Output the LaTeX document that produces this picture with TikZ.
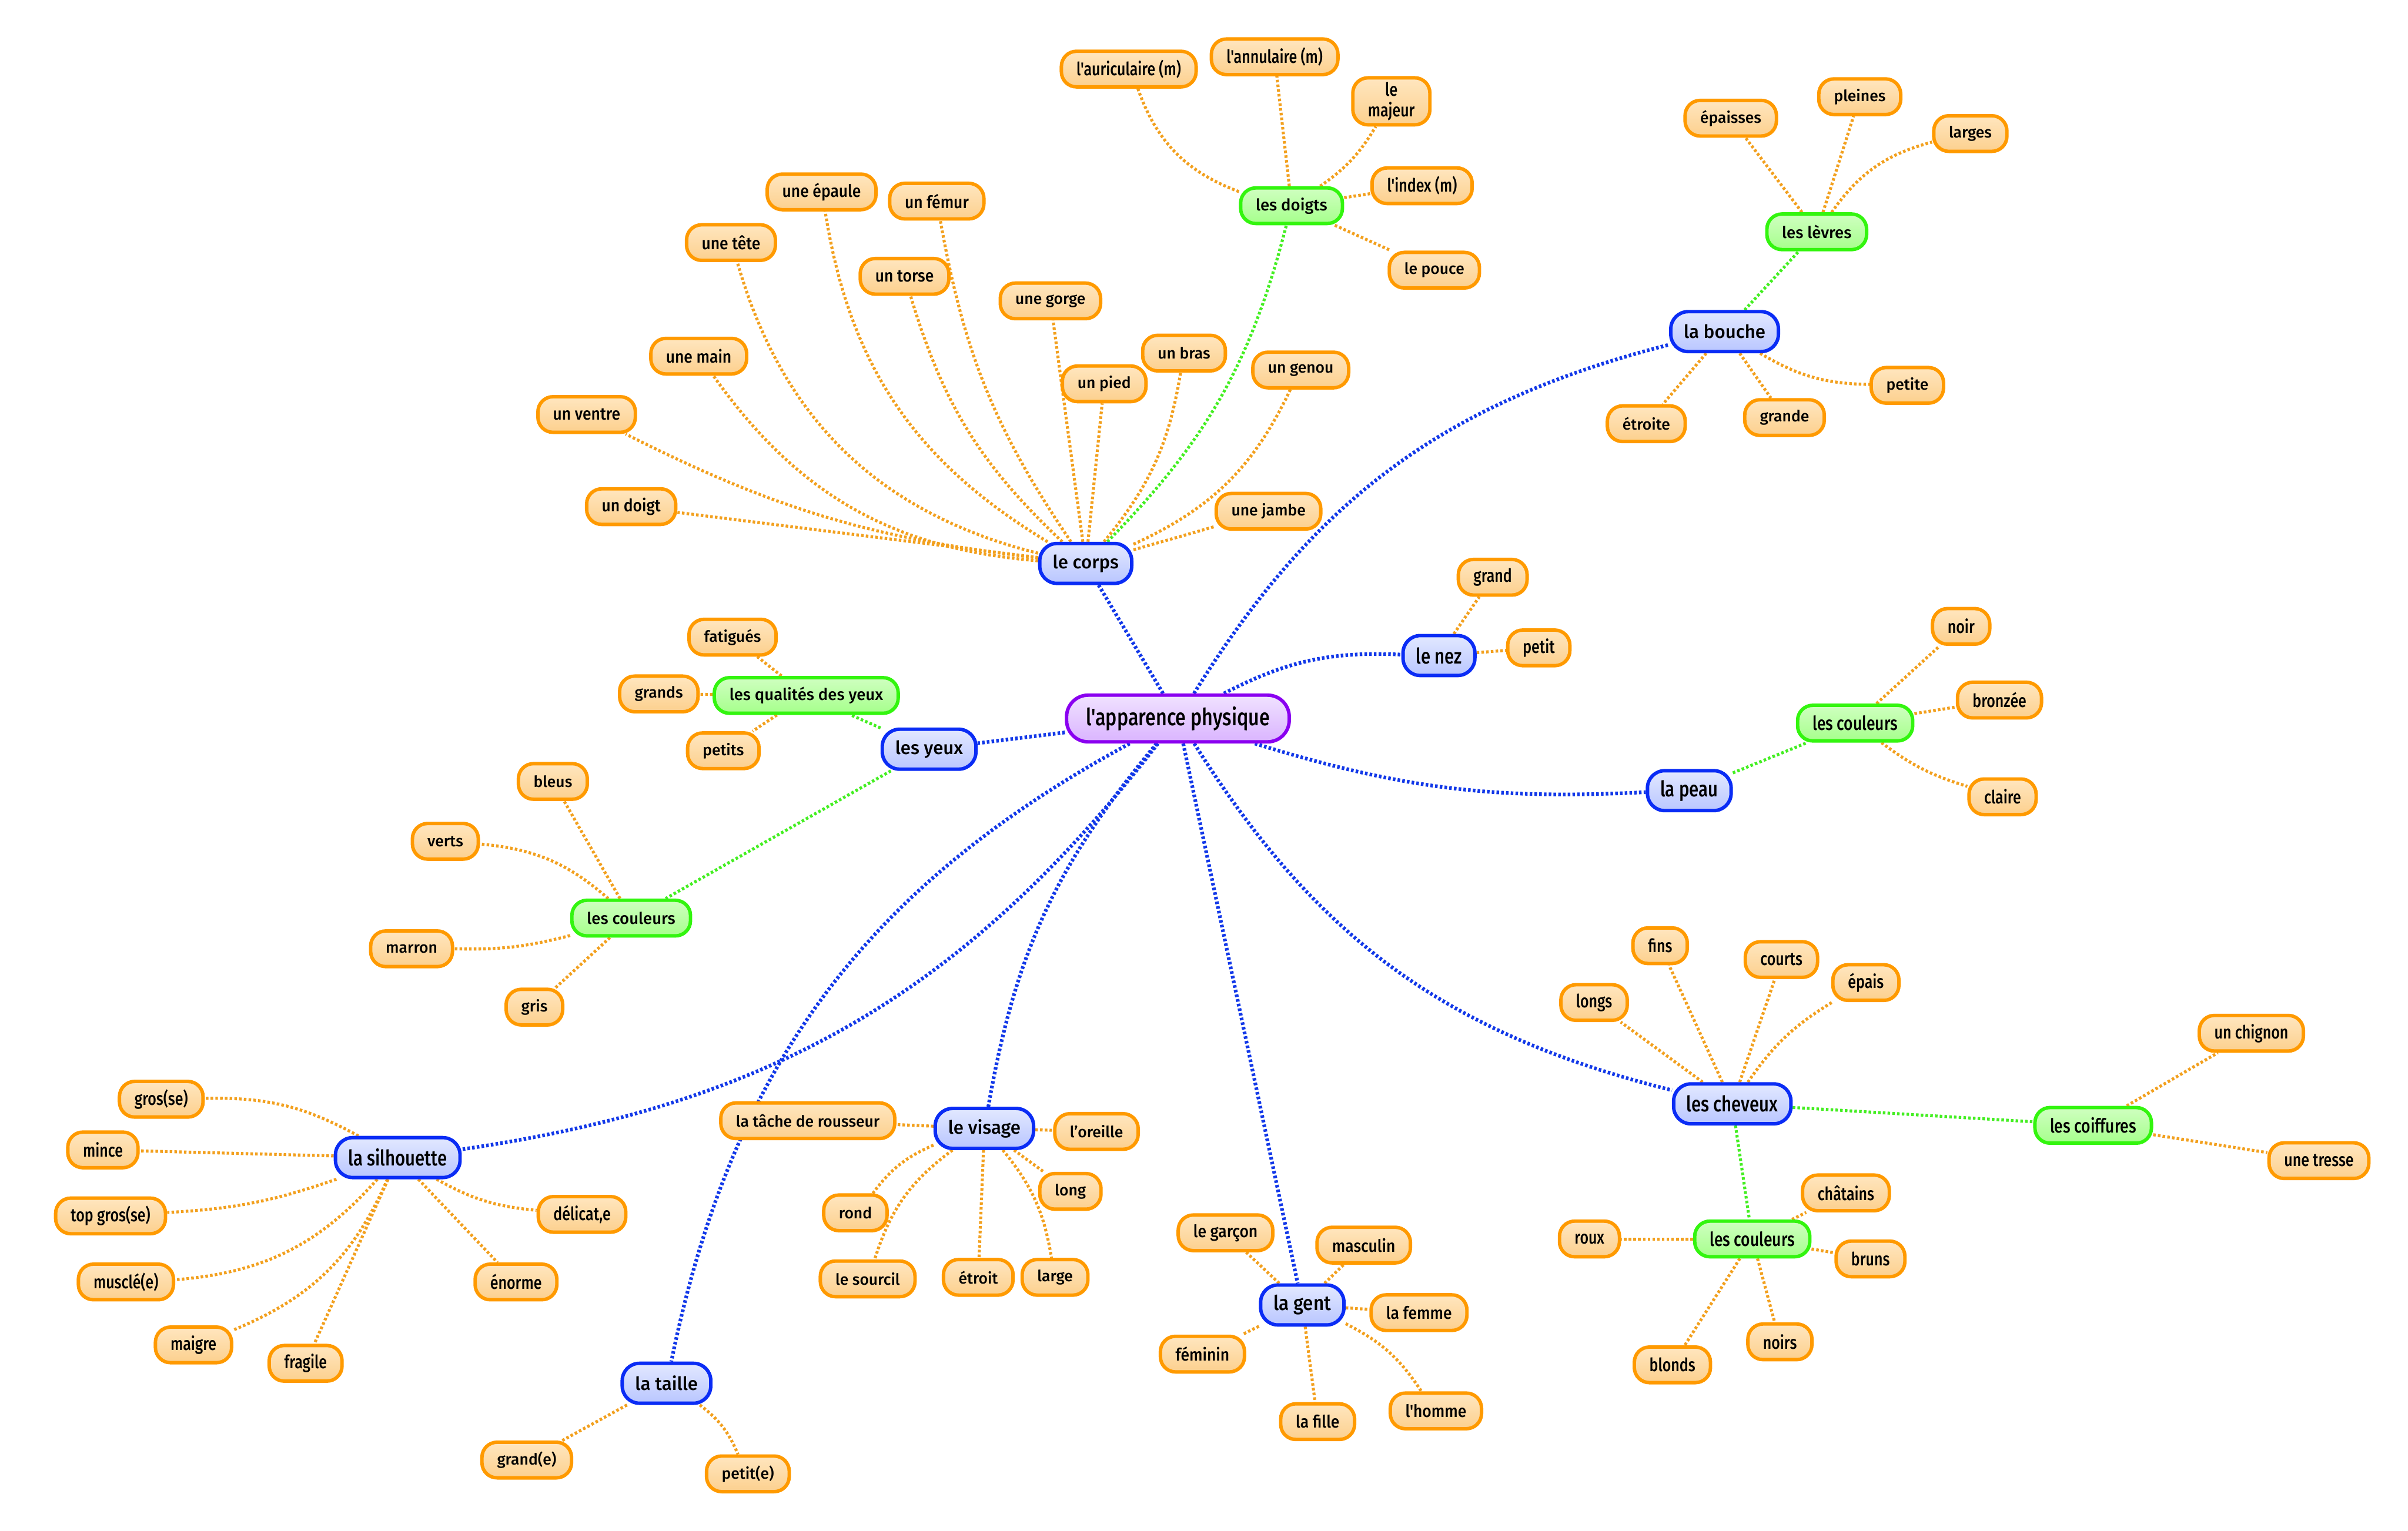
\documentclass[tikz,border=0pt]{standalone}
\usepackage{fontspec}
\setmainfont{Fira Sans}[UprightFont=* Medium]
\newfontfamily\narrowfont{Fira Sans}[UprightFont=* Medium,FakeStretch=0.8]
\newfontfamily\midfont{Fira Sans}[UprightFont=* Medium,FakeStretch=0.9]
\usepackage{tikz}
\usetikzlibrary{backgrounds}
\definecolor{Orange}{HTML}{FF9A00}
\definecolor{OrangeTop}{HTML}{FFE6BF}
\definecolor{OrangeBot}{HTML}{FCD08E}
\definecolor{OrangeLine}{HTML}{F2A01E}
\definecolor{Blue}{HTML}{0A2CF5}
\definecolor{BlueTop}{HTML}{E2E8FF}
\definecolor{BlueBot}{HTML}{B9C6FF}
\definecolor{BlueLine}{HTML}{1238E8}
\definecolor{Green}{HTML}{33F50F}
\definecolor{GreenTop}{HTML}{CFFFC0}
\definecolor{GreenBot}{HTML}{A6FF8C}
\definecolor{GreenLine}{HTML}{44EE22}
\definecolor{Purple}{HTML}{8A00F0}
\definecolor{PurpleTop}{HTML}{F0E2FF}
\definecolor{PurpleBot}{HTML}{DAB4FF}
\tikzset{pill/.style={rounded corners=7pt,line width=1.6pt,align=center,inner xsep=7pt,inner ysep=2pt,minimum height=0.58cm},leaf/.style={pill,draw=Orange,top color=OrangeTop,bottom color=OrangeBot,font=\fontsize{7.2}{8.4}\selectfont},leafn/.style={leaf,font=\narrowfont\fontsize{8.5}{9.5}\selectfont},leafm/.style={leaf,font=\midfont\fontsize{8}{9}\selectfont},sub/.style={pill,draw=Green,top color=GreenTop,bottom color=GreenBot,font=\fontsize{7.5}{9}\selectfont},subn/.style={sub,font=\narrowfont\fontsize{9}{10}\selectfont},main/.style={pill,rounded corners=8pt,minimum height=0.65cm,inner xsep=6pt,draw=Blue,top color=BlueTop,bottom color=BlueBot,font=\fontsize{8.5}{10}\selectfont},mainn/.style={main,font=\narrowfont\fontsize{10}{12}\selectfont},mainm/.style={main,font=\midfont\fontsize{9.5}{11}\selectfont},root/.style={pill,rounded corners=10pt,minimum height=0.76cm,inner xsep=9pt,draw=Purple,top color=PurpleTop,bottom color=PurpleBot,font=\narrowfont\fontsize{11}{13}\selectfont},bline/.style={draw=BlueLine,line width=1.7pt,dash pattern=on 1.2pt off 1pt},gline/.style={draw=GreenLine,line width=1.4pt,dash pattern=on 1.2pt off 1pt},oline/.style={draw=OrangeLine,line width=1.4pt,dash pattern=on 1.2pt off 1pt}}
\begin{document}
\begin{tikzpicture}[x=0.025cm,y=0.025cm]
        \useasboundingbox (0,0) rectangle (1568,-997);
        \node[root] (root) at (767,-468) {l'apparence physique};
        \node[main] (corps) at (707,-367) {le corps};
        \node[main] (yeux) at (605,-488) {les yeux};
        \node[mainn] (nez) at (937,-427) {le nez};
        \node[main] (bouche) at (1123,-216) {la bouche};
        \node[mainn] (peau) at (1100,-515) {la peau};
        \node[mainn] (cheveux) at (1128,-719) {les cheveux};
        \node[mainm] (gent) at (848,-850) {la gent};
        \node[main] (visage) at (641,-735) {le visage};
        \node[main] (taille) at (434,-901) {la taille};
        \node[mainn] (silhouette) at (259,-754) {la silhouette};
        \node[sub] (doigts) at (841,-134) {les doigts};
        \node[sub] (levres) at (1183,-151) {les lèvres};
        \node[sub] (qualites) at (525,-453) {les qualités des yeux};
        \node[sub] (couleursY) at (411,-598) {les couleurs};
        \node[subn] (couleursP) at (1208,-471) {les couleurs};
        \node[subn] (coiffures) at (1363,-733) {les coiffures};
        \node[subn] (couleursC) at (1141,-807) {les couleurs};
        \node[leafm] (undoigt) at (411,-330) {un doigt};
        \node[leafm] (ventre) at (382,-270) {un ventre};
        \node[leafm] (main) at (455,-232) {une main};
        \node[leafm] (tete) at (476,-158) {une tête};
        \node[leafm] (epaule) at (535,-125) {une épaule};
        \node[leafm] (torse) at (589,-180) {un torse};
        \node[leafm] (femur) at (610,-131) {un fémur};
        \node[leaf] (gorge) at (684,-196) {une gorge};
        \node[leaf] (pied) at (719,-250) {un pied};
        \node[leaf] (bras) at (771,-230) {un bras};
        \node[leaf] (genou) at (847,-241) {un genou};
        \node[leaf] (jambe) at (826,-333) {une jambe};
        \node[leafn] (auriculaire) at (735,-45) {l'auriculaire (m)};
        \node[leafn] (annulaire) at (830,-37) {l'annulaire (m)};
        \node[leafn] (majeur) at (906,-66) {le\\majeur};
        \node[leafn] (index) at (926,-121) {l'index (m)};
        \node[leaf] (pouce) at (934,-176) {le pouce};
        \node[leaf] (epaisses) at (1127,-77) {épaisses};
        \node[leaf] (pleines) at (1211,-63) {pleines};
        \node[leaf] (larges) at (1283,-87) {larges};
        \node[leaf] (etroite) at (1072,-276) {étroite};
        \node[leaf] (grande) at (1162,-272) {grande};
        \node[leaf] (petite) at (1242,-251) {petite};
        \node[leafn] (nezgrand) at (972,-376) {grand};
        \node[leafn] (nezpetit) at (1002,-422) {petit};
        \node[leafn] (noir) at (1277,-408) {noir};
        \node[leafn] (bronzee) at (1302,-456) {bronzée};
        \node[leafn] (claire) at (1304,-519) {claire};
        \node[leaf] (fatigues) at (477,-415) {fatigués};
        \node[leaf] (grands) at (429,-452) {grands};
        \node[leaf] (petits) at (471,-489) {petits};
        \node[leaf] (bleus) at (360,-509) {bleus};
        \node[leaf] (verts) at (290,-548) {verts};
        \node[leaf] (marron) at (268,-618) {marron};
        \node[leaf] (gris) at (348,-656) {gris};
        \node[leafn] (gros) at (105,-716) {gros(se)};
        \node[leafn] (mince) at (67,-749) {mince};
        \node[leafn] (topgros) at (72,-792) {top gros(se)};
        \node[leafn] (muscle) at (82,-835) {musclé(e)};
        \node[leafn] (maigre) at (126,-876) {maigre};
        \node[leafn] (fragile) at (199,-888) {fragile};
        \node[leafn] (enorme) at (336,-835) {énorme};
        \node[leafn] (delicat) at (379,-791) {délicat,e};
        \node[leaf] (tgrand) at (343,-951) {grand(e)};
        \node[leaf] (tpetit) at (487,-960) {petit(e)};
        \node[leaf] (tache) at (526,-730) {la tâche de rousseur};
        \node[leaf] (oreille) at (714,-737) {l'oreille};
        \node[leaf] (long) at (697,-776) {long};
        \node[leaf] (rond) at (557,-790) {rond};
        \node[leaf] (sourcil) at (565,-833) {le sourcil};
        \node[leaf] (etroit) at (637,-832) {étroit};
        \node[leaf] (large) at (687,-832) {large};
        \node[leafm] (garcon) at (798,-803) {le garçon};
        \node[leafm] (masculin) at (888,-811) {masculin};
        \node[leafm] (femme) at (924,-855) {la femme};
        \node[leafm] (feminin) at (783,-882) {féminin};
        \node[leafm] (fille) at (858,-926) {la fille};
        \node[leafm] (homme) at (935,-919) {l'homme};
        \node[leafn] (longs) at (1038,-653) {longs};
        \node[leafn] (fins) at (1081,-616) {fins};
        \node[leafn] (courts) at (1160,-625) {courts};
        \node[leafn] (epais) at (1215,-640) {épais};
        \node[leafn] (chignon) at (1466,-673) {un chignon};
        \node[leafn] (tresse) at (1510,-756) {une tresse};
        \node[leafn] (roux) at (1035,-807) {roux};
        \node[leafn] (chatains) at (1202,-777) {châtains};
        \node[leafn] (bruns) at (1218,-820) {bruns};
        \node[leafn] (noirs) at (1159,-874) {noirs};
        \node[leafn] (blonds) at (1089,-889) {blonds};
        \begin{scope}[on background layer]
        \draw[bline] (root) to (corps);
        \draw[bline] (root) to (yeux);
        \draw[bline] (root) to[bend left=15] (nez);
        \draw[bline] (root) to[bend left=22] (bouche);
        \draw[bline] (root) to[bend right=10] (peau);
        \draw[bline] (root) to[bend right=22] (cheveux);
        \draw[bline] (root) to (gent);
        \draw[bline] (root) to[bend right=15] (visage);
        \draw[bline] (root) to[bend right=25] (taille);
        \draw[bline] (root) to[bend left=22] (silhouette);
        \draw[gline] (corps) to[bend right=15] (doigts);
        \draw[gline] (bouche) to (levres);
        \draw[gline] (yeux) to (qualites);
        \draw[gline] (yeux) to (couleursY);
        \draw[gline] (peau) to (couleursP);
        \draw[gline] (cheveux) to (coiffures);
        \draw[gline] (cheveux) to (couleursC);
        \draw[oline] (corps) to (undoigt);
        \draw[oline] (corps) to[bend left=10] (ventre);
        \draw[oline] (corps) to[bend left=25] (main);
        \draw[oline] (corps) to[bend left=30] (tete);
        \draw[oline] (corps) to[bend left=25] (epaule);
        \draw[oline] (corps) to[bend left=15] (torse);
        \draw[oline] (corps) to[bend left=12] (femur);
        \draw[oline] (corps) to (gorge);
        \draw[oline] (corps) to (pied);
        \draw[oline] (corps) to[bend right=15] (bras);
        \draw[oline] (corps) to[bend right=20] (genou);
        \draw[oline] (corps) to (jambe);
        \draw[oline] (doigts) to[bend left=25] (auriculaire);
        \draw[oline] (doigts) to (annulaire);
        \draw[oline] (doigts) to[bend right=12] (majeur);
        \draw[oline] (doigts) to (index);
        \draw[oline] (doigts) to (pouce);
        \draw[oline] (levres) to (epaisses);
        \draw[oline] (levres) to (pleines);
        \draw[oline] (levres) to[bend left=20] (larges);
        \draw[oline] (bouche) to (etroite);
        \draw[oline] (bouche) to (grande);
        \draw[oline] (bouche) to[bend right=15] (petite);
        \draw[oline] (nez) to (nezgrand);
        \draw[oline] (nez) to (nezpetit);
        \draw[oline] (couleursP) to (noir);
        \draw[oline] (couleursP) to (bronzee);
        \draw[oline] (couleursP) to[bend right=10] (claire);
        \draw[oline] (qualites) to (fatigues);
        \draw[oline] (qualites) to (grands);
        \draw[oline] (qualites) to (petits);
        \draw[oline] (couleursY) to (bleus);
        \draw[oline] (couleursY) to[bend right=18] (verts);
        \draw[oline] (couleursY) to[bend left=8] (marron);
        \draw[oline] (couleursY) to (gris);
        \draw[oline] (silhouette) to[bend right=15] (gros);
        \draw[oline] (silhouette) to (mince);
        \draw[oline] (silhouette) to[bend left=8] (topgros);
        \draw[oline] (silhouette) to[bend left=22] (muscle);
        \draw[oline] (silhouette) to[bend left=22] (maigre);
        \draw[oline] (silhouette) to (fragile);
        \draw[oline] (silhouette) to (enorme);
        \draw[oline] (silhouette) to[bend right=12] (delicat);
        \draw[oline] (taille) to (tgrand);
        \draw[oline] (taille) to[bend left=15] (tpetit);
        \draw[oline] (visage) to (tache);
        \draw[oline] (visage) to (oreille);
        \draw[oline] (visage) to (long);
        \draw[oline] (visage) to[bend right=15] (rond);
        \draw[oline] (visage) to[bend right=18] (sourcil);
        \draw[oline] (visage) to (etroit);
        \draw[oline] (visage) to[bend left=15] (large);
        \draw[oline] (gent) to (garcon);
        \draw[oline] (gent) to (masculin);
        \draw[oline] (gent) to (femme);
        \draw[oline] (gent) to (feminin);
        \draw[oline] (gent) to (fille);
        \draw[oline] (gent) to[bend left=15] (homme);
        \draw[oline] (cheveux) to (longs);
        \draw[oline] (cheveux) to (fins);
        \draw[oline] (cheveux) to (courts);
        \draw[oline] (cheveux) to[bend left=12] (epais);
        \draw[oline] (coiffures) to (chignon);
        \draw[oline] (coiffures) to (tresse);
        \draw[oline] (couleursC) to (roux);
        \draw[oline] (couleursC) to (chatains);
        \draw[oline] (couleursC) to (bruns);
        \draw[oline] (couleursC) to (noirs);
        \draw[oline] (couleursC) to (blonds);
        \end{scope}
\end{tikzpicture}
\end{document}
